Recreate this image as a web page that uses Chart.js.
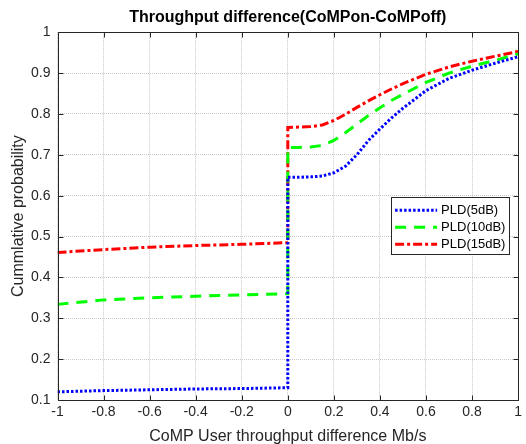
<!DOCTYPE html>
<html>
<head>
<meta charset="utf-8">
<script src="https://cdn.jsdelivr.net/npm/chart.js@4/dist/chart.umd.min.js"></script>
<style>
html,body{margin:0;padding:0;background:#fff;}
#wrap{width:526px;height:444px;position:relative;}
</style>
</head>
<body>
<div id="wrap"><canvas id="c" width="526" height="444"></canvas></div>
<script>
// ---- data ----
const xValues = [-1, -0.8, -0.6, -0.4, -0.2, 0, 0, 0.05, 0.1, 0.15, 0.2, 0.25, 0.3, 0.35, 0.4, 0.45, 0.5, 0.6, 0.7, 0.8, 0.9, 1.0];
const pld5  = [0.120, 0.123, 0.125, 0.127, 0.128, 0.130, 0.645, 0.645, 0.646, 0.648, 0.656, 0.672, 0.700, 0.735, 0.763, 0.790, 0.814, 0.857, 0.887, 0.907, 0.924, 0.940];
const pld10 = [0.334, 0.345, 0.350, 0.354, 0.357, 0.360, 0.718, 0.718, 0.719, 0.723, 0.735, 0.754, 0.775, 0.796, 0.815, 0.833, 0.848, 0.877, 0.900, 0.917, 0.931, 0.947];
const pld15 = [0.461, 0.468, 0.474, 0.478, 0.481, 0.485, 0.767, 0.768, 0.769, 0.773, 0.784, 0.799, 0.816, 0.832, 0.847, 0.861, 0.874, 0.897, 0.915, 0.929, 0.941, 0.953];
const seriesNames = ['PLD(5dB)', 'PLD(10dB)', 'PLD(15dB)'];
const xTicks = [-1, -0.8, -0.6, -0.4, -0.2, 0, 0.2, 0.4, 0.6, 0.8, 1];
const yTicks = [0.1, 0.2, 0.3, 0.4, 0.5, 0.6, 0.7, 0.8, 0.9, 1];

const toPts = ys => xValues.map((x, i) => ({x: x, y: ys[i]}));
const FONT = "'Liberation Sans', Arial, sans-serif";
const TXT = '#262626';

const boxPlugin = {
  id: 'box',
  afterLayout(chart) {
    if (chart.titleBlock) {
      chart.titleBlock.left = chart.chartArea.left;
      chart.titleBlock.right = chart.chartArea.right;
    }
  },
  afterDatasetsDraw(chart) {
    const {ctx, chartArea: a, scales} = chart;
    ctx.save();
    ctx.strokeStyle = '#262626';
    ctx.lineWidth = 1;
    ctx.beginPath();
    const L = Math.round(a.left) + 0.5, R = Math.round(a.right) + 0.5, T = Math.round(a.top) + 0.5, B = Math.round(a.bottom) + 0.5;
    ctx.rect(L, T, R - L, B - T);
    const tl = 5;
    xTicks.forEach(v => {
      const px = Math.round(scales.x.getPixelForValue(v)) + 0.5;
      ctx.moveTo(px, B); ctx.lineTo(px, B - tl);
      ctx.moveTo(px, T); ctx.lineTo(px, T + tl);
    });
    yTicks.forEach(v => {
      const py = Math.round(scales.y.getPixelForValue(v)) + 0.5;
      ctx.moveTo(L, py); ctx.lineTo(L + tl, py);
      ctx.moveTo(R, py); ctx.lineTo(R - tl, py);
    });
    ctx.stroke();
    ctx.restore();
  }
};

const legendPlugin = {
  id: 'inlegend',
  afterDraw(chart) {
    const {ctx, chartArea: a} = chart;
    const w = 118, h = 57;
    const x0 = a.right - 127, y0 = a.top + 165;
    ctx.save();
    ctx.fillStyle = '#fff';
    ctx.fillRect(x0, y0, w, h);
    ctx.strokeStyle = '#262626';
    ctx.lineWidth = 1;
    ctx.strokeRect(Math.round(x0) + 0.5, Math.round(y0) + 0.5, w, h);
    ctx.font = '13px ' + FONT;
    ctx.textBaseline = 'middle';
    chart.data.datasets.forEach((ds, i) => {
      const yy = y0 + 13 + i * 17;
      ctx.strokeStyle = ds.borderColor;
      ctx.lineWidth = ds.borderWidth;
      ctx.setLineDash(ds.borderDash || []);
      ctx.beginPath();
      ctx.moveTo(x0 + 4, yy); ctx.lineTo(x0 + 46, yy);
      ctx.stroke();
      ctx.setLineDash([]);
      ctx.fillStyle = '#000';
      ctx.fillText(ds.label, x0 + 50, yy);
    });
    ctx.restore();
  }
};

new Chart(document.getElementById('c'), {
  type: 'line',
  data: {
    datasets: [
      {label: seriesNames[0], data: toPts(pld5), borderColor: '#0000ff', borderWidth: 3, borderDash: [2.5, 2], pointRadius: 0, tension: 0, fill: false},
      {label: seriesNames[1], data: toPts(pld10), borderColor: '#00ff00', borderWidth: 3, borderDash: [11, 8], pointRadius: 0, tension: 0, fill: false},
      {label: seriesNames[2], data: toPts(pld15), borderColor: '#ff0000', borderWidth: 3, borderDash: [9, 3, 3, 3], pointRadius: 0, tension: 0, fill: false}
    ]
  },
  options: {
    responsive: false,
    animation: false,
    layout: {padding: {top: 0, right: 7, left: 0, bottom: 0}},
    plugins: {
      legend: {display: false},
      tooltip: {enabled: false},
      title: {display: true, text: 'Throughput difference(CoMPon-CoMPoff)', color: '#000', font: {family: FONT, size: 16, weight: 'bold'}, padding: {top: 8, bottom: 5}}
    },
    scales: {
      x: {
        type: 'linear', min: -1, max: 1,
        afterBuildTicks: s => { s.ticks = xTicks.map(v => ({value: v})); },
        afterFit: s => { s.height = 44; },
        grid: {color: '#c8c8c8', lineWidth: 1, drawTicks: false},
        border: {display: false, dash: [1, 1]},
        ticks: {color: TXT, font: {family: FONT, size: 14}, padding: 4, maxRotation: 0, autoSkip: false, callback: v => String(Number(v.toFixed(1)))},
        title: {display: true, text: 'CoMP User throughput difference Mb/s', color: TXT, font: {family: FONT, size: 16}, padding: {top: 4, bottom: -2}}
      },
      y: {
        type: 'linear', min: 0.1, max: 1,
        afterBuildTicks: s => { s.ticks = yTicks.map(v => ({value: v})); },
        afterFit: s => { s.width = 57.5; },
        grid: {color: '#c8c8c8', lineWidth: 1, drawTicks: false},
        border: {display: false, dash: [1, 1]},
        ticks: {color: TXT, font: {family: FONT, size: 14}, padding: 7, autoSkip: false, callback: v => String(Number(v.toFixed(1)))},
        title: {display: true, text: 'Cummlative probability', color: TXT, font: {family: FONT, size: 16}, padding: {top: 9, bottom: 4}}
      }
    }
  },
  plugins: [boxPlugin, legendPlugin]
});
</script>
</body>
</html>
